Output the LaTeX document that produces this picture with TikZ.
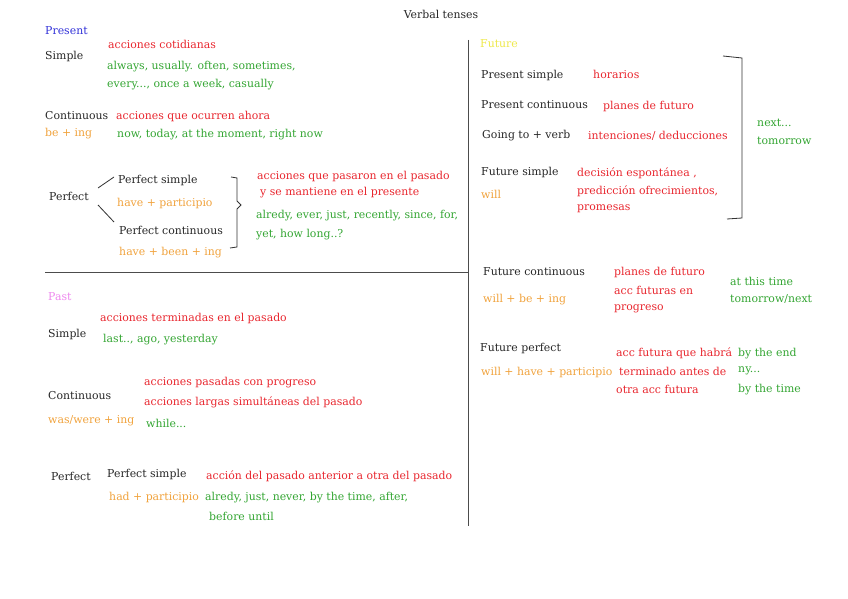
\documentclass[tikz,border=0pt]{standalone}
\usepackage{fontspec}
\setmainfont{DejaVu Serif}
\usepackage{xcolor}
\usepackage{tikz}
\usetikzlibrary{positioning,calc}
\definecolor{tred}{HTML}{E8262E}
\definecolor{tgreen}{HTML}{33A532}
\definecolor{torange}{HTML}{F0A23C}
\definecolor{tblue}{HTML}{3232D8}
\definecolor{tpink}{HTML}{EE88EE}
\definecolor{tyellow}{HTML}{EEE84A}

\begin{document}
\begin{tikzpicture}[
    x=0.03cm, y=-0.03cm,
    font=\fontsize{9.3}{11}\selectfont,
    txt/.style={anchor=west, inner sep=0pt, text=black!85},
    head/.style={txt},
    tense/.style={txt},
    meaning/.style={txt, text=tred},
    cue/.style={txt, text=tgreen},
    form/.style={txt, text=torange},
    rule/.style={draw=black!70, line width=0.6pt},
    brk/.style={draw=black!80, line width=0.7pt}
]
\useasboundingbox (0,0) rectangle (848,599);

% title and dividers
\node[inner sep=0pt, text=black!85] (title) at (441,14) {Verbal tenses};
\draw[rule] (468,40) -- (468,526);
\draw[rule] (45,272) -- (468,272);

% present
\node[head, text=tblue] (present) at (45,31) {Present};
\node[tense] (psimple) at (45,56) {Simple};
\node[meaning] (psimpleM) at (108,44) {acciones cotidianas};
\node[cue] (psimpleC1) at (107,67) {always, usually. often, sometimes,};
\node[cue] (psimpleC2) at (107,85) {every..., once a week, casually};

\node[tense] (pcont) at (45,116) {Continuous};
\node[meaning] (pcontM) at (116,116) {acciones que ocurren ahora};
\node[form] (pcontF) at (45,134) {be + ing};
\node[cue] (pcontC) at (117,135) {now, today, at the moment, right now};

\node[tense] (pperf) at (49,196) {Perfect};
\node[tense] (pps) at (118,180) {Perfect simple};
\node[form] (ppsF) at (117,203) {have + participio};
\node[tense] (ppc) at (119,230) {Perfect continuous};
\node[form] (ppcF) at (119,253) {have + been + ing};
\node[meaning] (pperfM1) at (257,176) {acciones que pasaron en el pasado};
\node[meaning] (pperfM2) at (260,193) {y se mantiene en el presente};
\node[cue] (pperfC1) at (256,216) {alredy, ever, just, recently, since, for,};
\node[cue] (pperfC2) at (256,235) {yet, how long..?};

\draw[brk] ($(pps.west)+(-20,8)$) -- ($(pps.west)+(-4,-3)$);
\draw[brk] ($(ppc.west)+(-21,-25)$) -- ($(ppc.west)+(-5,-8)$);
\draw[brk] (231,177) -- (237,178) -- (237,201) -- (241,205) -- (237,209)
    -- (237,247) -- (230,248);

% past
\node[head, text=tpink] (past) at (48,297) {Past};
\node[tense] (asimple) at (48,334) {Simple};
\node[meaning] (asimpleM) at (100,318) {acciones terminadas en el pasado};
\node[cue] (asimpleC) at (103,340) {last.., ago, yesterday};

\node[tense] (acont) at (48,396) {Continuous};
\node[meaning] (acontM1) at (144,383) {acciones pasadas con progreso};
\node[meaning] (acontM2) at (144,402) {acciones largas simultáneas del pasado};
\node[form] (acontF) at (48,421) {was/were + ing};
\node[cue] (acontC) at (146,423) {while...};

\node[tense] (aperf) at (51,476) {Perfect};
\node[tense] (aps) at (107,474) {Perfect simple};
\node[form] (apsF) at (109,497) {had + participio};
\node[meaning] (aperfM) at (206,476) {acción del pasado anterior a otra del pasado};
\node[cue] (aperfC1) at (205,498) {alredy, just, never, by the time, after,};
\node[cue] (aperfC2) at (209,516) {before until};

% future
\node[head, text=tyellow] (future) at (480,44) {Future};
\node[tense] (fps) at (481,75) {Present simple};
\node[meaning] (fpsM) at (593,74) {horarios};
\node[tense] (fpc) at (481,105) {Present continuous};
\node[meaning] (fpcM) at (603,106) {planes de futuro};
\node[tense] (fgo) at (482,136) {Going to + verb};
\node[meaning] (fgoM) at (588,136) {intenciones/ deducciones};
\node[tense] (ffs) at (481,172) {Future simple};
\node[form] (ffsF) at (481,194) {will};
\node[meaning] (ffsM1) at (577,173) {decisión espontánea ,};
\node[meaning] (ffsM2) at (577,191) {predicción ofrecimientos,};
\node[meaning] (ffsM3) at (577,209) {promesas};
\node[cue] (fnext1) at (757,123) {next...};
\node[cue] (fnext2) at (757,141) {tomorrow};
\draw[brk] (723,56) -- (742,58) -- (742,218) -- (727,219);

\node[tense] (ffc) at (483,272) {Future continuous};
\node[form] (ffcF) at (483,300) {will + be + ing};
\node[meaning] (ffcM1) at (614,272) {planes de futuro};
\node[meaning] (ffcM2) at (614,290) {acc futuras en};
\node[meaning] (ffcM3) at (614,309) {progreso};
\node[cue] (ffcC1) at (730,281) {at this time};
\node[cue] (ffcC2) at (730,299) {tomorrow/next};

\node[tense] (ffp) at (480,348) {Future perfect};
\node[form] (ffpF) at (481,372) {will + have + participio};
\node[meaning] (ffpM1) at (616,353) {acc futura que habrá};
\node[meaning] (ffpM2) at (619,371) {terminado antes de};
\node[meaning] (ffpM3) at (616,389) {otra acc futura};
\node[cue] (ffpC1) at (738,354) {by the end};
\node[cue] (ffpC2) at (738,371) {ny...};
\node[cue] (ffpC3) at (738,390) {by the time};

\end{tikzpicture}
\end{document}
